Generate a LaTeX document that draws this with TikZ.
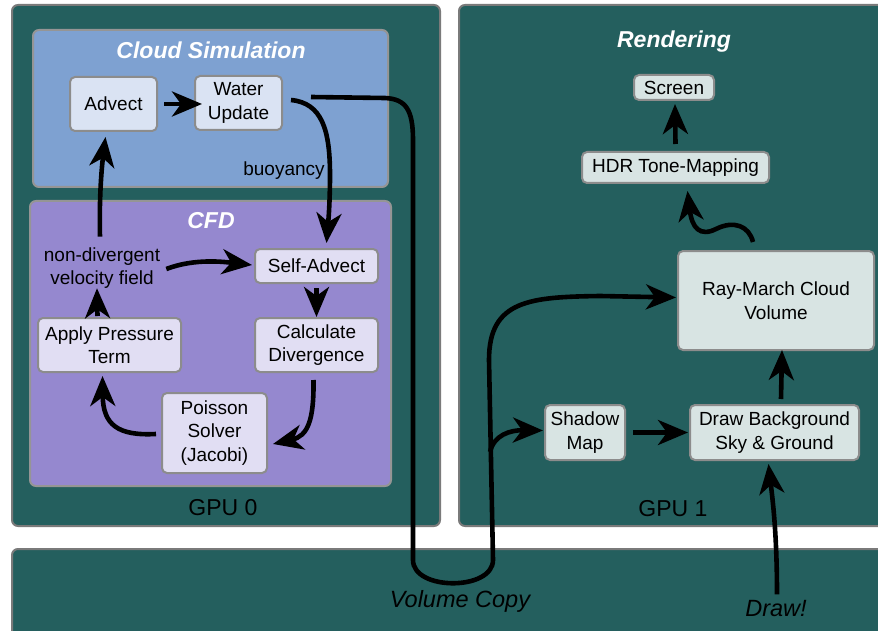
\documentclass[tikz,border=0pt]{standalone}
\usepackage{fontspec}
\setmainfont{Liberation Sans}
\usetikzlibrary{arrows.meta,calc}

\definecolor{gputeal}{HTML}{245F5E}
\definecolor{panelrim}{HTML}{7A7A7A}
\definecolor{simblue}{HTML}{7EA1D1}
\definecolor{cfdpurple}{HTML}{9588CF}
\definecolor{simnode}{HTML}{DAE3F3}
\definecolor{cfdnode}{HTML}{E1DEF3}
\definecolor{rendnode}{HTML}{D8E4E3}
\definecolor{noderim}{HTML}{8C8C8C}

\tikzset{
  panel/.style={fill=gputeal, draw=panelrim, line width=2pt, rounded corners=6pt},
  group/.style={draw=panelrim!80, line width=2pt, rounded corners=6pt},
  stage/.style={draw=noderim, line width=2pt, rounded corners=5pt, align=center,
    inner sep=0pt, font=\fontsize{19}{23.5}\selectfont},
  simstage/.style={stage, fill=simnode},
  cfdstage/.style={stage, fill=cfdnode},
  rendstage/.style={stage, fill=rendnode},
  grouptitle/.style={text=white, font=\fontsize{23}{27}\selectfont\bfseries\itshape},
  gpulabel/.style={font=\fontsize{23}{27}\selectfont},
  strip/.style={font=\fontsize{23.5}{27}\selectfont\itshape},
  note/.style={align=center, inner sep=0pt, font=\fontsize{19}{22.5}\selectfont},
  bigtip/.tip={Stealth[length=30pt 0, width=25pt 0, inset=9pt 0]},
  flow/.style={line width=4.6pt, -bigtip},
}

\begin{document}
\begin{tikzpicture}[x=1pt,y=-1pt]
\useasboundingbox (0,0) rectangle (878,631);
\clip (0,0) rectangle (878,631);

% GPU panels and transfer strip
\path[panel] (12,5) rectangle (440,526);
\path[panel] (459,5) rectangle (895,526);
\path[panel] (12,549) rectangle (895,650);

% groups on GPU 0
\path[group, fill=simblue] (33,30) rectangle (388,187);
\path[group, fill=cfdpurple] (30,201) rectangle (391,486);

\node[grouptitle] (simtitle) at (211,50) {Cloud Simulation};
\node[grouptitle] (cfdtitle) at (211,221) {CFD};
\node[grouptitle] (rendtitle) at (674,42) {Rendering};
\node[gpulabel] (gpu0) at (223,508) {GPU 0};
\node[gpulabel] (gpu1) at (673,509) {GPU 1};

% simulation stages
\node[simstage, minimum width=87pt, minimum height=54pt] (advect) at (113.5,104) {Advect};
\node[simstage, minimum width=87pt, minimum height=54pt] (water) at (238.5,103) {Water\\Update};
\node[note] (buoy) at (284,171) {buoyancy};

% CFD stages
\node[cfdstage, minimum width=123pt, minimum height=34pt] (self) at (316.5,266) {Self-Advect};
\node[cfdstage, minimum width=123pt, minimum height=54pt] (calc) at (316.5,345) {Calculate\\Divergence};
\node[cfdstage, minimum width=143pt, minimum height=54pt] (apply) at (109.5,345) {Apply Pressure\\Term};
\node[cfdstage, minimum width=105pt, minimum height=80pt] (poisson) at (214.5,433) {Poisson\\Solver\\(Jacobi)};
\node[note] (vel) at (102,268) {non-divergent\\velocity field};

% rendering stages
\node[rendstage, minimum width=80pt, minimum height=25pt] (screen) at (674,87.5) {Screen};
\node[rendstage, minimum width=187pt, minimum height=31pt] (hdr) at (675.5,167.5) {HDR Tone-Mapping};
\node[rendstage, minimum width=196pt, minimum height=99pt] (ray) at (776,300.5) {Ray-March Cloud\\Volume};
\node[rendstage, minimum width=80pt, minimum height=55pt] (shadow) at (585,432.5) {Shadow\\Map};
\node[rendstage, minimum width=169pt, minimum height=55pt] (drawbg) at (774.5,432.5) {Draw Background\\Sky \& Ground};

% strip labels
\node[strip] (vcopy) at (460,601) {Volume Copy};
\node[strip] (drawlbl) at (776,609) {Draw!};

% simulation loop
\draw[flow] ($(advect.east)+(6,0)$) -- ($(water.west)+(8,1)$);
\draw[flow] ($(water.east)+(8,-3)$) .. controls (322,103) and (330,130) .. (330,175)
  .. controls (330,205) and (328,225) .. ($(self.north)+(10,-5)$);
\draw[flow] ($(self.south)+(0,4)$) -- ($(calc.north)+(0,0)$);
\draw[flow] ($(calc.south)+(-3,7)$) .. controls (314,420) and (308,436) .. ($(poisson.east)+(5,11)$);
\draw[flow] ($(poisson.west)+(-5,1)$) .. controls (118,436) and (103,425) .. ($(apply.south)+(-7,3)$);
\draw[flow] ($(apply.north)+(-12,-1)$) -- ($(vel.south)+(-5,0)$);
\draw[flow] ($(vel.north)+(-2,-11)$) .. controls (99,195) and (102,165) .. ($(advect.south)+(-8,5)$);
\draw[flow] ($(vel.east)+(6,1)$) .. controls (195,258) and (225,262) .. ($(self.west)+(-2,-1)$);

% volume copy to GPU 1
\coordinate (vcstart) at (311,97);
\coordinate (branch) at (490,452);
\draw[flow] (vcstart) -- (385,98) .. controls (406,99) and (413,110) .. (413,140)
  -- (413,560) .. controls (413,591) and (493,591) .. (493,560)
  -- (489,360) .. controls (489,300) and (530,297) .. (600,296)
  -- ($(ray.west)+(-1,-3)$);
\draw[flow] (branch) .. controls (494,435) and (510,430) .. ($(shadow.west)+(-1,-2)$);

% rendering chain
\draw[flow] ($(shadow.east)+(7,0)$) -- ($(drawbg.west)+(-1,0)$);
\draw[flow] ($(drawbg.north)+(6.5,-5)$) -- ($(ray.south)+(6,-1)$);
\draw[flow] ($(drawlbl.north)+(1,-3)$) .. controls (777,530) and (772,495) .. ($(drawbg.south)+(-6,3)$);
\draw[flow] ($(ray.north)+(-23,-8)$) .. controls (749,226) and (734,220) .. (716,229)
  .. controls (700,237) and (692,228) .. ($(hdr.south)+(12,7)$);
\draw[flow] ($(hdr.north)+(0,-7)$) -- ($(screen.south)+(1,3)$);
\end{tikzpicture}
\end{document}
